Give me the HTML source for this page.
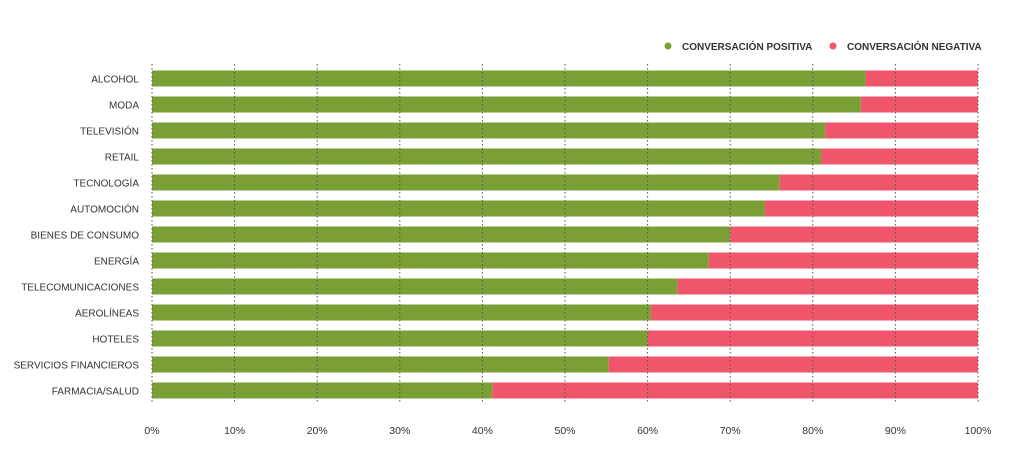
<!DOCTYPE html>
<html><head><meta charset="utf-8"><style>
body{margin:0;background:#fff;width:1024px;height:466px;overflow:hidden;font-family:"Liberation Sans",sans-serif}
</style></head><body>
<svg id="c" width="1024" height="466" xmlns="http://www.w3.org/2000/svg">
<g font-size="10" fill="#333" font-weight="bold">
<circle cx="668" cy="46" r="3.5" fill="#7a9f34"/>
<text x="682" y="50">CONVERSACIÓN POSITIVA</text>
<circle cx="833" cy="46" r="3.5" fill="#ef566b"/>
<text x="847" y="50">CONVERSACIÓN NEGATIVA</text>
</g>
</svg>
<script>
const categories=["ALCOHOL","MODA","TELEVISIÓN","RETAIL","TECNOLOGÍA","AUTOMOCIÓN","BIENES DE CONSUMO","ENERGÍA","TELECOMUNICACIONES","AEROLÍNEAS","HOTELES","SERVICIOS FINANCIEROS","FARMACIA/SALUD"];
const positive=[86.4,85.8,81.5,81,76,74.2,70,67.4,63.6,60.4,60,55.3,41.2];
const negative=[13.6,14.2,18.5,19,24,25.8,30,32.6,36.4,39.6,40,44.7,58.8];
const ticks=[0,10,20,30,40,50,60,70,80,90,100];
const tickLabels=["0%","10%","20%","30%","40%","50%","60%","70%","80%","90%","100%"];
const NS="http://www.w3.org/2000/svg",svg=document.getElementById('c');
const x=v=>152+v*8.26, y=i=>70.5+i*26;
function mk(t,a,p){const e=document.createElementNS(NS,t);for(const k in a)e.setAttribute(k,a[k]);(p||svg).appendChild(e);return e;}
categories.forEach((c,i)=>{
 const r1=mk('rect',{x:x(0),y:y(i),width:x(positive[i])-x(0),height:16,fill:'#7a9f34'});
 
 
 const r2=mk('rect',{x:x(positive[i]),y:y(i),width:x(positive[i]+negative[i])-x(positive[i]),height:16,fill:'#ef566b'});
 
 
 const t=mk('text',{x:139,y:y(i)+12,'text-anchor':'end','font-size':'10',fill:'#333'});
 t.textContent=c;
 
 
});
ticks.forEach((v,i)=>{
 const l=mk('line',{x1:x(v),x2:x(v),y1:64,y2:404,stroke:'#555','stroke-width':1,'stroke-dasharray':'1.5,2.5'});
 
 
 const t=mk('text',{x:x(v),y:434,'text-anchor':'middle','font-size':'10.5',fill:'#333'});
 t.textContent=tickLabels[i];
 
 
});
</script>
</body></html>
